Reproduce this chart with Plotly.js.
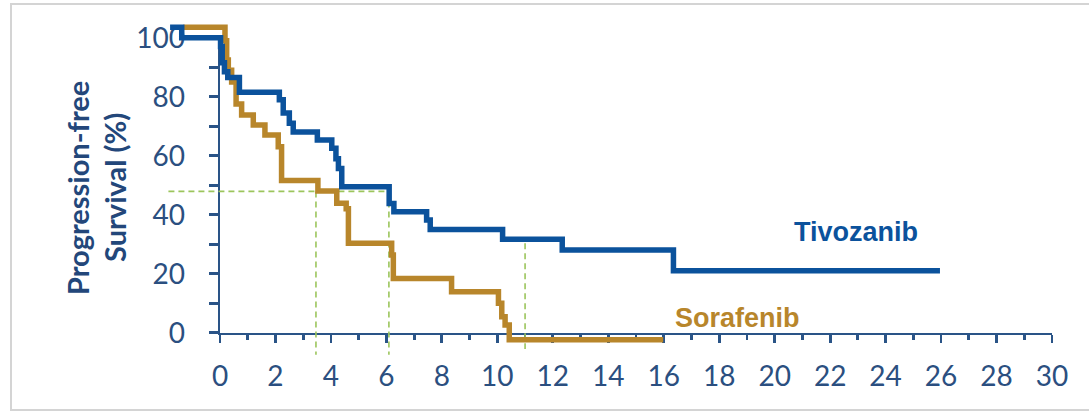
<!DOCTYPE html>
<html>
<head>
<meta charset="utf-8">
<script src="https://cdn.plot.ly/plotly-3.0.1.min.js"></script>
<style>html,body{margin:0;padding:0;background:#fff;}#chart{width:1089px;height:413px;}</style>
</head>
<body>
<div id="chart"></div>
<script>
// ---- Data (months, % progression-free survival) ----
const tivoMonths = [-1.80, -1.38, 0.02, 0.08, 0.16, 0.28, 0.70, 2.14, 2.28, 2.50, 2.64, 3.51, 4.03, 4.18, 4.27, 4.39, 6.10, 6.27, 7.45, 7.58, 10.19, 12.34, 16.35, 25.96];
const tivoPFS    = [103.5, 100, 97, 91.5, 88.5, 86.5, 81.5, 79, 74.5, 71, 68, 65.3, 62.5, 59, 55.7, 49.5, 43.8, 41, 38.2, 35, 31.7, 28, 21, 21];

const soraMonths = [-1.32, 0.18, 0.24, 0.30, 0.42, 0.58, 0.78, 1.20, 1.62, 2.10, 2.22, 3.53, 4.21, 4.55, 4.63, 6.19, 6.25, 8.35, 10.04, 10.16, 10.28, 10.43, 15.98];
const soraPFS    = [103.5, 99, 92.4, 89, 85, 77.5, 73.8, 70.4, 67, 63, 51.6, 48.0, 43.9, 42, 30.3, 26.3, 18.4, 13.9, 10.0, 5.4, 2.6, -2.4, -2.4];

// median / reference guide lines
const medianLineX = [-1.86, 6.08];
const medianLineY = [47.9, 47.9];
const soraMedianX = [3.46, 3.46];
const soraMedianY = [47.9, -7.5];
const tivoMedianX = [6.09, 6.09];
const tivoMedianY = [47.9, -7.5];
const extraLineX  = [11.0, 11.0];
const extraLineY  = [30.3, -5.5];

const xTickVals = [0,2,4,6,8,10,12,14,16,18,20,22,24,26,28,30];
const yTickVals = [0,20,40,60,80,100];
const seriesNames = ['Tivozanib', 'Sorafenib'];
const yTitleLines = ['Progression-free', 'Survival (%)'];

// ---- Styling ----
const W = 1089, H = 413;
const blue = '#0b529c', gold = '#b8862b', axisCol = '#2a5487', tickCol = '#2b4f80', green = '#9cc55c';

// pixel geometry of the drawn axes
const x0px = 220, x30px = 1052, y0px = 332.7, y100px = 37.7;
const pxPerX = (x30px - x0px) / 30;
const pxPerY = (y0px - y100px) / 100;

const guide = {color: green, width: 1.6, dash: '6px,4px'};
const traces = [
  {x: medianLineX, y: medianLineY, xaxis: 'x2', yaxis: 'y2', mode: 'lines', line: guide, hoverinfo: 'skip', showlegend: false},
  {x: soraMedianX, y: soraMedianY, xaxis: 'x2', yaxis: 'y2', mode: 'lines', line: guide, hoverinfo: 'skip', showlegend: false},
  {x: tivoMedianX, y: tivoMedianY, xaxis: 'x2', yaxis: 'y2', mode: 'lines', line: guide, hoverinfo: 'skip', showlegend: false},
  {x: extraLineX, y: extraLineY, xaxis: 'x2', yaxis: 'y2', mode: 'lines', line: guide, hoverinfo: 'skip', showlegend: false},
  {x: soraMonths, y: soraPFS, name: seriesNames[1], xaxis: 'x2', yaxis: 'y2', mode: 'lines', line: {color: gold, width: 5.5, shape: 'hv'}, showlegend: false},
  {x: tivoMonths, y: tivoPFS, name: seriesNames[0], xaxis: 'x2', yaxis: 'y2', mode: 'lines', line: {color: blue, width: 5.5, shape: 'hv'}, showlegend: false},
  {x: [], y: [], xaxis: 'x', yaxis: 'y', mode: 'lines', showlegend: false, hoverinfo: 'skip'}
];

const layout = {
  width: W, height: H,
  margin: {l: 0, r: 0, t: 0, b: 0, pad: 0},
  paper_bgcolor: '#ffffff',
  plot_bgcolor: 'rgba(0,0,0,0)',
  showlegend: false,
  // visible (decorative) axes
  xaxis: {
    domain: [x0px / W, x30px / W], range: [0, 30], anchor: 'y',
    showline: true, linecolor: axisCol, linewidth: 2.5, showgrid: false, zeroline: false,
    tickmode: 'array', tickvals: xTickVals, ticktext: xTickVals.map(String),
    ticks: 'outside', ticklen: 8, tickwidth: 2.8, tickcolor: axisCol,
    minor: {dtick: 1, tick0: 0, ticks: 'outside', ticklen: 5, tickwidth: 2.8, tickcolor: axisCol, showgrid: false},
    tickfont: {family: 'Lato, sans-serif', size: 28, color: tickCol},
    ticklabelstandoff: 9, fixedrange: true
  },
  yaxis: {
    domain: [1 - y0px / H, 1 - y100px / H], range: [0, 100], anchor: 'x',
    showline: true, linecolor: axisCol, linewidth: 2.5, showgrid: false, zeroline: false,
    tickmode: 'array', tickvals: yTickVals, ticktext: yTickVals.map(String),
    ticks: 'outside', ticklen: 9, tickwidth: 2.8, tickcolor: axisCol,
    minor: {dtick: 10, tick0: 0, ticks: 'outside', ticklen: 9, tickwidth: 2.8, tickcolor: axisCol, showgrid: false},
    tickfont: {family: 'Lato, sans-serif', size: 28, color: tickCol},
    ticklabelstandoff: 18, fixedrange: true
  },
  // invisible data axes spanning the whole figure, same scale
  xaxis2: {
    domain: [0, 1], anchor: 'y2', visible: false, fixedrange: true,
    range: [-x0px / pxPerX, (W - x0px) / pxPerX]
  },
  yaxis2: {
    domain: [0, 1], anchor: 'x2', visible: false, fixedrange: true,
    range: [-(H - y0px) / pxPerY, y0px / pxPerY]
  },
  shapes: [
    {type: 'rect', xref: 'paper', yref: 'paper', x0: 11 / W, x1: 1.02, y0: 1 - 410 / H, y1: 1 - 4 / H,
     line: {color: '#d4d4d4', width: 2}, fillcolor: 'rgba(0,0,0,0)', layer: 'below'}
  ],
  annotations: [
    {text: yTitleLines[0], xref: 'paper', yref: 'paper', x: 77 / W, y: 1 - 188 / H, textangle: -90,
     showarrow: false, xanchor: 'center', yanchor: 'middle',
     font: {family: 'Lato, sans-serif', size: 29, color: '#23477a', weight: 'bold'}},
    {text: yTitleLines[1], xref: 'paper', yref: 'paper', x: 114 / W, y: 1 - 188 / H, textangle: -90,
     showarrow: false, xanchor: 'center', yanchor: 'middle',
     font: {family: 'Lato, sans-serif', size: 29, color: '#23477a', weight: 'bold'}},
    {text: seriesNames[0], xref: 'paper', yref: 'paper', x: 792 / W, y: 1 - 232 / H,
     showarrow: false, xanchor: 'left', yanchor: 'middle',
     font: {family: 'Liberation Sans, Arial, sans-serif', size: 27, color: blue, weight: 'bold'}},
    {text: seriesNames[1], xref: 'paper', yref: 'paper', x: 673 / W, y: 1 - 318 / H,
     showarrow: false, xanchor: 'left', yanchor: 'middle',
     font: {family: 'Liberation Sans, Arial, sans-serif', size: 27, color: gold, weight: 'bold'}}
  ]
};

Plotly.newPlot('chart', traces, layout, {displayModeBar: false, staticPlot: true});
</script>
</body>
</html>
